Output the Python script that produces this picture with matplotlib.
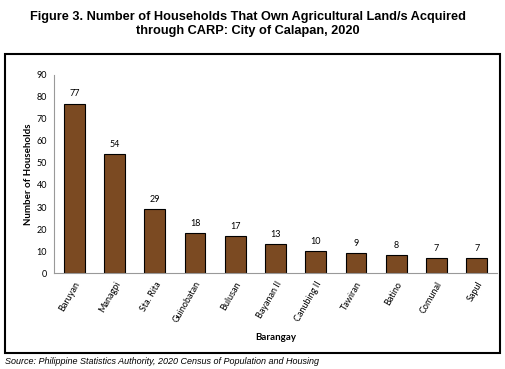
import matplotlib
matplotlib.use("Agg")
import matplotlib.pyplot as plt
from matplotlib.patches import Rectangle

categories = ["Baruyan", "Managpi", "Sta. Rita", "Guinobatan", "Bulusan", "Bayanan II",
              "Canubing II", "Tawiran", "Batino", "Comunal", "Sapul"]
values = [77, 54, 29, 18, 17, 13, 10, 9, 8, 7, 7]
yticks = [0, 10, 20, 30, 40, 50, 60, 70, 80, 90]

fig = plt.figure(figsize=(5.06, 3.69), dpi=100)
ax = fig.add_axes([0.107, 0.260, 0.875, 0.537])

x = range(len(categories))
ax.bar(x, values, width=0.52, color="#7B4A22", edgecolor="black", linewidth=0.8)
for xi, v in zip(x, values):
    ax.text(xi, v + 2.3, str(v), ha="center", va="bottom", fontsize=6.5, family="Lato")

ax.set_ylim(0, 90)
ax.set_xlim(-0.5, len(categories) - 0.5)
ax.set_yticks(yticks)
ax.set_yticklabels([str(t) for t in yticks], fontsize=6.5, family="Lato")
ax.set_xticks(list(x))
ax.set_xticklabels(categories, rotation=60, ha="right", rotation_mode="anchor",
                   fontsize=6.5, family="Lato")
ax.tick_params(axis="both", length=0, pad=5)
for s in ["top", "right"]:
    ax.spines[s].set_visible(False)
ax.spines["left"].set_color("#999999")
ax.spines["bottom"].set_color("#999999")
ax.set_ylabel("Number of Households", fontsize=7, fontweight="bold", family="Lato", labelpad=3)
ax.set_xlabel("Barangay", fontsize=7, fontweight="bold", family="Lato", labelpad=6)

fig.text(0.49, 0.934, "Figure 3. Number of Households That Own Agricultural Land/s Acquired\nthrough CARP: City of Calapan, 2020",
         ha="center", va="center", fontsize=9.2, fontweight="bold", family="Liberation Sans", linespacing=1.2)
fig.patches.append(Rectangle((0.009, 0.043), 0.979, 0.811, transform=fig.transFigure,
                             fill=False, edgecolor="black", linewidth=1.5))
fig.text(0.01, 0.019, "Source: Philippine Statistics Authority, 2020 Census of Population and Housing",
         ha="left", va="center", fontsize=6.5, style="italic", family="Liberation Sans")

fig.savefig("out.png", dpi=100)
